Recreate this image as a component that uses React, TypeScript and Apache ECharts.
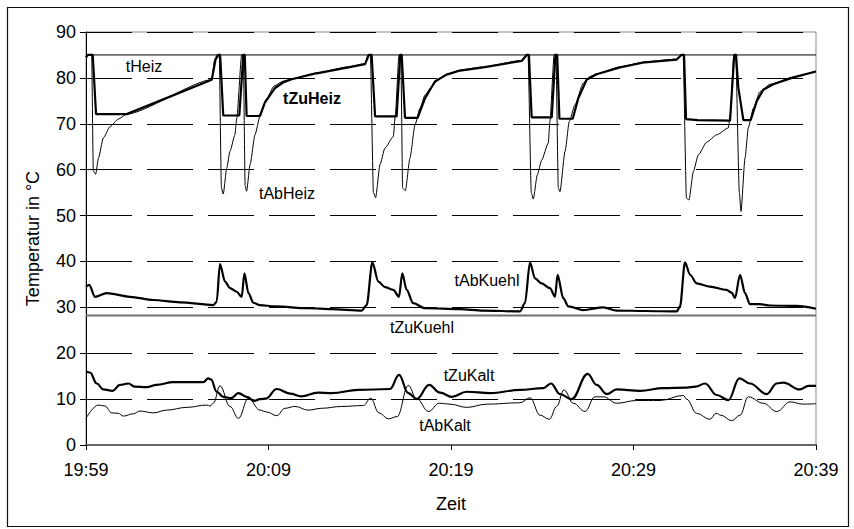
import React, { useEffect, useRef } from "react";
import * as echarts from "echarts";

// Time axis: minutes after 19:59
const START_MINUTES = 19 * 60 + 59;
const X_MIN = 0;
const X_MAX = 40;
const X_STEP = 10;
const Y_MIN = 0;
const Y_MAX = 90;
const Y_STEP = 10;

// [minutes, °C]
const tHeiz = [
  [0, 85],
  [40, 85],
];

const tZuKuehl = [
  [0, 28.2],
  [40, 28.2],
];

const tZuHeiz = [
  [0, 84.5], [0.1, 85], [0.37, 85], [0.55, 72.1], [2.23, 72.1], [6.89, 79.6],
  [7.1, 84.0], [7.25, 85], [7.35, 85], [7.52, 71.8], [8.4, 71.8], [8.62, 85],
  [8.7, 85], [8.8, 71.7], [9.53, 71.7], [9.8, 74.6], [10.36, 77.8], [10.8, 79.0],
  [11.27, 79.7], [12.64, 81.0], [14.37, 82.3], [15.29, 83.0], [15.5, 85],
  [15.65, 85], [15.84, 71.6], [17.02, 71.6], [17.22, 85], [17.3, 85], [17.48, 71.3],
  [18.17, 71.3], [18.58, 75.6], [19.12, 79.2], [19.76, 80.7], [20.5, 81.6],
  [21.77, 82.3], [23.87, 83.7], [24.15, 85], [24.27, 85], [24.42, 71.4],
  [25.52, 71.4], [25.72, 85], [25.82, 85], [25.94, 71.1], [26.67, 71.1],
  [26.98, 75.6], [27.43, 79.6], [27.98, 80.8], [29.26, 82.3], [30.63, 83.4],
  [32.37, 84.0], [32.62, 85], [32.77, 85], [32.88, 71.0], [33.5, 70.8],
  [35.29, 70.7], [35.52, 85], [35.62, 85], [35.74, 78], [36.02, 70.8],
  [36.42, 70.8], [36.75, 74.9], [37.11, 77.4], [37.66, 78.6], [38.76, 80.1],
  [40, 81.4],
];

const tAbHeiz = [
  [0, 84.5], [0.1, 85], [0.31, 85], [0.4, 59.7], [0.53, 59.0], [0.68, 62.5],
  [0.95, 66.9], [1.32, 69.4], [1.77, 71.0], [2.23, 72.1], [6.89, 79.6], [7.05, 84],
  [7.18, 85], [7.3, 85], [7.42, 56.0], [7.52, 54.7], [7.71, 60.3], [7.89, 64.0],
  [8.16, 67.6], [8.26, 71.2], [8.53, 85], [8.62, 85], [8.72, 56.5], [8.8, 55.3],
  [8.99, 61.1], [9.26, 67.6], [9.53, 71.6], [9.9, 75.5], [10.3, 78.2], [10.8, 79.3],
  [11.27, 79.8], [12.64, 81.1], [14.37, 82.4], [15.29, 83.1], [15.45, 85],
  [15.58, 85], [15.75, 55], [15.87, 53.9], [16.11, 61.1], [16.38, 64.7],
  [16.84, 67.2], [16.95, 72], [17.15, 85], [17.25, 85], [17.35, 56], [17.5, 55.4],
  [17.75, 62.5], [18.03, 69.8], [18.3, 73.4], [18.58, 76.3], [18.94, 78.1],
  [19.3, 79.6], [19.76, 80.8], [20.5, 81.7], [21.77, 82.4], [23.87, 83.8],
  [24.1, 85], [24.22, 85], [24.4, 55.0], [24.51, 53.6], [24.73, 58.9],
  [24.97, 62.1], [25.33, 65.8], [25.42, 70.5], [25.65, 85], [25.75, 85],
  [25.88, 56], [25.97, 55.2], [26.25, 64.0], [26.48, 70.5], [26.79, 74.1],
  [27.25, 78.9], [27.62, 80.3], [27.98, 80.9], [29.26, 82.4], [30.63, 83.5],
  [32.37, 84.1], [32.6, 85], [32.72, 85], [32.9, 53.8], [33.04, 53.4],
  [33.28, 59.6], [33.55, 63.2], [34.01, 66.0], [34.56, 67.6], [35.2, 69.1],
  [35.3, 72], [35.5, 85], [35.6, 85], [35.8, 55], [35.89, 50.9], [36.11, 62.5],
  [36.29, 69.1], [36.57, 73.4], [36.93, 77.0], [37.48, 78.6], [38.76, 80.2],
  [40, 81.5],
];

const tAbKuehl = [
  [0, 34.5], [0.18, 34.9], [0.49, 32.3], [1.13, 33.1], [2.41, 32.3], [3.69, 31.6],
  [5.15, 31.1], [6.98, 30.5], [7.16, 31.2], [7.34, 39.4], [7.62, 35.6], [7.89, 34.2],
  [8.26, 33.4], [8.53, 32.3], [8.68, 37.4], [8.9, 33.1], [9.17, 31.0], [9.53, 30.5],
  [10.36, 30.2], [12.18, 29.8], [13.46, 29.6], [15.1, 29.3], [15.38, 30.5],
  [15.69, 39.8], [16.02, 35.6], [16.38, 34.4], [16.84, 33.8], [17.15, 32.3],
  [17.33, 37.4], [17.57, 33.8], [17.93, 30.9], [18.58, 29.8], [20.49, 29.6],
  [21.77, 29.3], [23.78, 29.1], [24.05, 30.9], [24.33, 39.8], [24.6, 36.3],
  [24.97, 35.2], [25.42, 34.2], [25.7, 32.3], [25.84, 37.1], [26.15, 32.0],
  [26.43, 30.2], [27.25, 29.4], [28.35, 30.0], [29.08, 29.3], [30.63, 29.2],
  [32.37, 29.1], [32.55, 30.2], [32.82, 39.8], [33.1, 37.1], [33.46, 35.2],
  [34.19, 34.5], [35.1, 33.8], [35.38, 33.2], [35.56, 32.0], [35.84, 37.1],
  [36.11, 33.1], [36.38, 30.7], [36.93, 30.7], [37.48, 30.4], [38.94, 30.3],
  [40, 29.7],
];

const tZuKalt = [
  [0, 16.0], [0.22, 15.8], [0.59, 13.4], [0.95, 12.1], [1.45, 11.8], [1.86, 13.1],
  [2.32, 13.4], [2.68, 12.7], [3.32, 12.6], [3.87, 13.1], [4.78, 13.7], [6.43, 13.7],
  [6.7, 14.5], [6.85, 14.3], [7.16, 11.6], [7.52, 10.5], [7.95, 10.2], [8.35, 11.3],
  [8.8, 10.5], [9.22, 9.6], [9.53, 10.0], [9.85, 10.1], [10.45, 12.2], [11.18, 11.2],
  [11.8, 10.6], [12.7, 11.4], [13.46, 11.3], [14.92, 12.0], [16.66, 12.2],
  [17.15, 15.3], [17.66, 11.3], [18.12, 10.0], [18.8, 13.1], [19.4, 11.4],
  [20.05, 10.5], [20.86, 11.6], [22.14, 11.3], [23.78, 12.0], [25.06, 12.4],
  [25.48, 13.4], [25.97, 11.1], [26.61, 10.0], [27.49, 15.5], [27.98, 13.1],
  [28.53, 11.1], [29.08, 12.1], [30.36, 11.8], [31.63, 12.4], [32.91, 12.5],
  [33.4, 12.7], [33.92, 13.4], [34.56, 10.9], [35.2, 9.8], [35.8, 14.5],
  [36.38, 13.4], [37.3, 11.1], [37.85, 13.4], [38.21, 13.6], [39.12, 12.1],
  [39.58, 12.9], [40, 12.9],
];

const tAbKalt = [
  [0, 5.8], [0.68, 8.7], [1.04, 8.5], [1.41, 7.0], [1.77, 6.9], [2.05, 6.3],
  [2.59, 6.8], [2.96, 7.4], [3.69, 7.0], [4.42, 7.6], [5.52, 8.2], [6.61, 8.7],
  [6.8, 8.5], [6.98, 9.1], [7.34, 12.9], [7.89, 8.4], [8.35, 5.8], [8.9, 10.2],
  [9.53, 7.6], [9.9, 7.2], [10.45, 6.4], [10.9, 8.0], [11.45, 8.4], [12.18, 7.6],
  [12.91, 8.0], [14.01, 8.4], [15.2, 8.6], [15.6, 10.2], [16.05, 7.0], [16.57, 5.7],
  [17.05, 6.2], [17.66, 13.0], [18.1, 10.2], [18.77, 7.3], [19.35, 9.1],
  [19.95, 8.9], [20.86, 8.2], [21.96, 8.9], [23.78, 9.2], [24.33, 10.3],
  [24.88, 6.5], [25.39, 5.6], [25.79, 8.4], [26.19, 12.0], [26.7, 9.1],
  [27.34, 7.3], [27.89, 10.5], [28.35, 10.5], [29.08, 9.1], [30.17, 9.7],
  [31.45, 9.7], [32.73, 10.8], [32.91, 10.0], [33.46, 6.9], [34.19, 5.6],
  [34.52, 6.9], [34.79, 6.5], [35.38, 5.3], [35.84, 6.5], [36.29, 10.5],
  [37.11, 9.1], [37.85, 7.3], [38.58, 9.4], [39.3, 8.9], [40, 9.0],
];

const FONT = '"Liberation Sans", Arial, Helvetica, sans-serif';

function clock(minutesAfterStart: number): string {
  const total = START_MINUTES + Math.round(minutesAfterStart);
  const h = Math.floor(total / 60) % 24;
  const m = total % 60;
  return `${h}:${m < 10 ? "0" : ""}${m}`;
}

function lineSeries(name: string, data: number[][], width: number, color = "#000", smooth: number | boolean = false) {
  return {
    type: "line",
    name,
    data,
    symbol: "none",
    smooth,
    smoothMonotone: "x",
    silent: true,
    lineStyle: { width, color },
  };
}

function label(text: string, x: number, y: number, bold = false) {
  return {
    type: "text",
    x,
    y,
    silent: true,
    style: {
      text,
      fill: "#000",
      font: `${bold ? "bold " : ""}16px ${FONT}`,
      textAlign: "center",
      textVerticalAlign: "middle",
    },
  };
}

export default function App() {
  const ref = useRef<HTMLDivElement>(null);

  useEffect(() => {
    if (!ref.current) return;
    const chart = echarts.init(ref.current, null, { renderer: "svg" });
    chart.setOption({
      animation: false,
      backgroundColor: "#fff",
      grid: {
        left: 86,
        right: 38,
        top: 32,
        bottom: 84,
        show: true,
        borderColor: "#8a8a8a",
        borderWidth: 1,
        backgroundColor: "transparent",
      },
      xAxis: {
        type: "value",
        min: X_MIN,
        max: X_MAX,
        interval: X_STEP,
        name: "Zeit",
        nameLocation: "middle",
        nameGap: 50,
        nameTextStyle: { fontFamily: FONT, fontSize: 18, color: "#000" },
        axisLine: { show: true, onZero: false, lineStyle: { color: "#666", width: 2 } },
        axisTick: { show: true, inside: false, length: 5, lineStyle: { color: "#000" } },
        axisLabel: {
          margin: 16,
          fontFamily: FONT,
          fontSize: 18,
          color: "#000",
          formatter: (v: number) => clock(v),
        },
        splitLine: { show: false },
      },
      yAxis: {
        type: "value",
        min: Y_MIN,
        max: Y_MAX,
        interval: Y_STEP,
        name: "Temperatur in °C",
        nameLocation: "middle",
        nameRotate: 90,
        nameGap: 44,
        nameTextStyle: { fontFamily: FONT, fontSize: 18, color: "#000" },
        axisLine: { show: true, lineStyle: { color: "#000", width: 1 } },
        axisTick: { show: true, inside: false, length: 6, lineStyle: { color: "#000" } },
        axisLabel: { margin: 10, fontFamily: FONT, fontSize: 18, color: "#000" },
        splitLine: {
          show: true,
          lineStyle: { color: "#000", width: 1, type: [46, 15] },
        },
      },
      graphic: [
        {
          type: "rect",
          silent: true,
          shape: { x: 7.5, y: 7.5, width: 841, height: 519 },
          style: { fill: "none", stroke: "#111", lineWidth: 1.2 },
        },
        label("tHeiz", 144, 66),
        label("tZuHeiz", 312, 98, true),
        label("tAbHeiz", 287, 193),
        label("tAbKuehl", 487, 280),
        label("tZuKuehl", 422, 327),
        label("tZuKalt", 469, 375),
        label("tAbKalt", 445, 425),
      ],
      series: [
        lineSeries("tHeiz", tHeiz, 1),
        lineSeries("tZuKuehl", tZuKuehl, 2, "#6e6e6e"),
        lineSeries("tZuHeiz", tZuHeiz, 2.2),
        lineSeries("tAbHeiz", tAbHeiz, 1, "#000", 0.2),
        lineSeries("tAbKuehl", tAbKuehl, 2.2, "#000", 0.3),
        lineSeries("tZuKalt", tZuKalt, 2.2, "#000", 0.4),
        lineSeries("tAbKalt", tAbKalt, 1, "#000", 0.4),
      ],
    });
    return () => chart.dispose();
  }, []);

  return (
    <div
      ref={ref}
      style={{ position: "absolute", left: 0, top: 0, width: 854, height: 529 }}
    />
  );
}
